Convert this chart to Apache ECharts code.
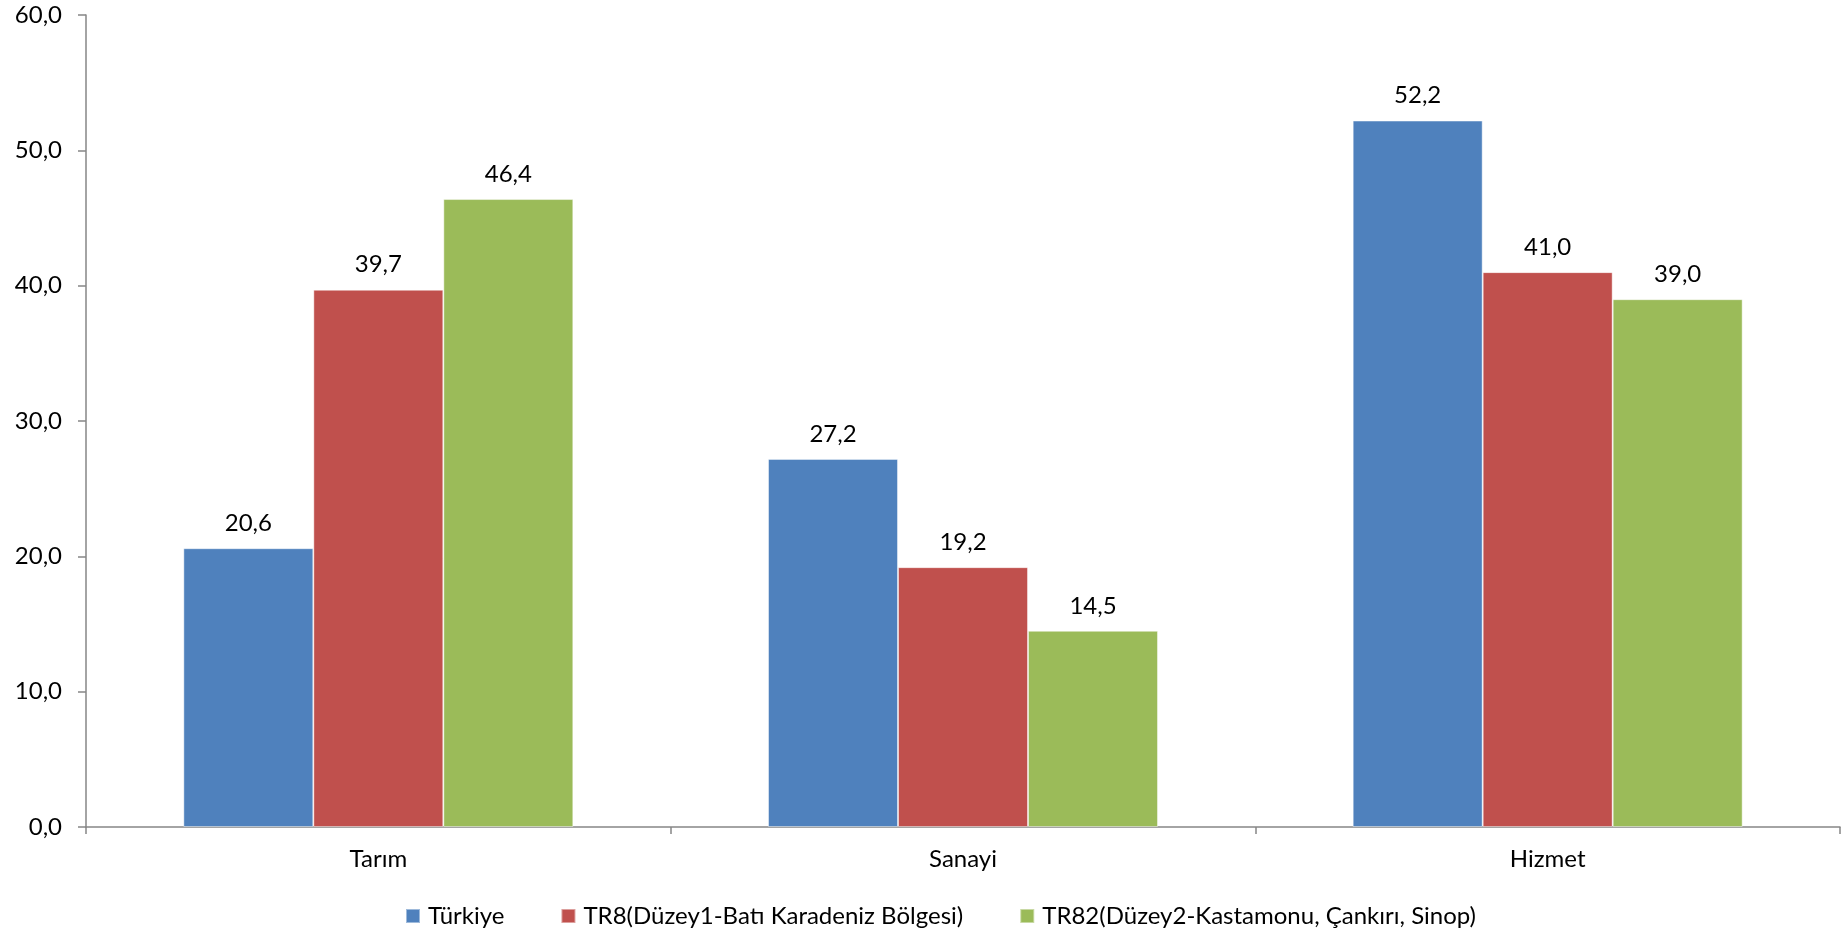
<!DOCTYPE html>
<html>
<head>
<meta charset="utf-8">
<script src="https://cdn.jsdelivr.net/npm/echarts@6/dist/echarts.min.js"></script>
<style>html,body{margin:0;padding:0;background:#fff;}#c{width:1841px;height:930px;}</style>
</head>
<body>
<div id="c"></div>
<script>
const categories = ['Tarım', 'Sanayi', 'Hizmet'];
const seriesNames = ['Türkiye', 'TR8(Düzey1-Batı Karadeniz Bölgesi)', 'TR82(Düzey2-Kastamonu, Çankırı, Sinop)'];
const turkiye = [20.6, 27.2, 52.2];
const tr8 = [39.7, 19.2, 41.0];
const tr82 = [46.4, 14.5, 39.0];
const colors = ['#4F81BD', '#C0504D', '#9BBB59'];

const FONT = 'Lato';
const FS = 24;
const fmt = v => Number(v).toFixed(1).replace('.', ',');

const chart = echarts.init(document.getElementById('c'));
const mk = (name, data, color) => ({
  name, type: 'bar', data,
  barGap: '0%', barCategoryGap: '33.3%',
  itemStyle: { color, borderColor: 'rgba(255,255,255,0.45)', borderWidth: 1 },
  label: { show: true, position: 'top', distance: 13, formatter: p => fmt(p.value),
    fontFamily: FONT, fontSize: FS, color: '#000' }
});
chart.setOption({
  animation: false,
  grid: { left: 86, right: 1, top: 15, bottom: 103, containLabel: false },
  legend: {
    left: 400, top: 899, itemWidth: 14, itemHeight: 14, itemGap: 56,
    icon: 'rect',
    textStyle: { fontFamily: FONT, fontSize: FS, color: '#000', padding: [0, 0, 0, 3] },
    data: seriesNames
  },
  xAxis: {
    type: 'category', data: categories,
    axisLine: { lineStyle: { color: '#868686', width: 1.5 } },
    axisTick: { show: true, length: 7, lineStyle: { color: '#868686', width: 1.5 } },
    axisLabel: { fontFamily: FONT, fontSize: FS, color: '#000', margin: 20 }
  },
  yAxis: {
    type: 'value', min: 0, max: 60, interval: 10,
    splitLine: { show: false },
    axisLine: { show: true, lineStyle: { color: '#868686', width: 1.5 } },
    axisTick: { show: true, length: 8, lineStyle: { color: '#868686', width: 1.5 } },
    axisLabel: { fontFamily: FONT, fontSize: FS, color: '#000', margin: 24, formatter: v => fmt(v) }
  },
  series: [
    mk(seriesNames[0], turkiye, colors[0]),
    mk(seriesNames[1], tr8, colors[1]),
    mk(seriesNames[2], tr82, colors[2])
  ]
});
</script>
</body>
</html>
